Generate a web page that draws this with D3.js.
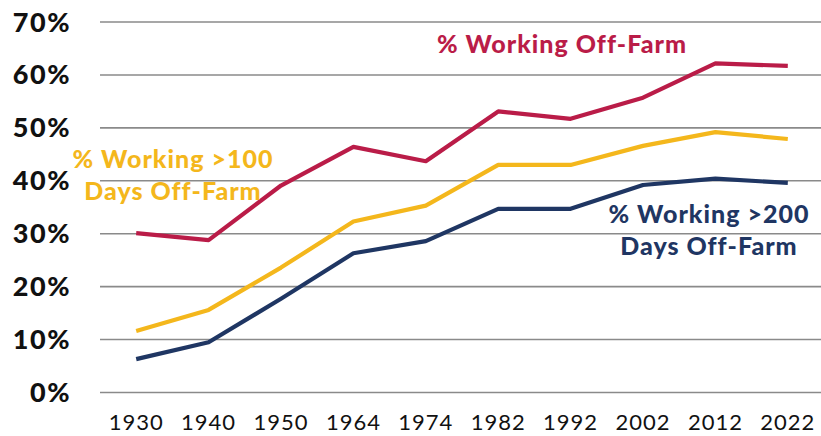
<!DOCTYPE html>
<html>
<head>
<meta charset="utf-8">
<script src="https://cdn.jsdelivr.net/npm/d3@7"></script>
<style>
  body { margin: 0; background: #fff; }
  text { font-family: Lato, "DejaVu Sans", sans-serif; }
</style>
</head>
<body>
<div id="chart"></div>
<script>
// chart data
const years = ["1930", "1940", "1950", "1964", "1974", "1982", "1992", "2002", "2012", "2022"];
const offFarm = [30.1, 28.8, 39.1, 46.4, 43.7, 53.1, 51.7, 55.7, 62.2, 61.7];
const over100 = [11.6, 15.6, 23.6, 32.3, 35.3, 43.0, 43.0, 46.6, 49.2, 47.9];
const over200 = [6.3, 9.5, 17.7, 26.3, 28.6, 34.7, 34.7, 39.2, 40.4, 39.6];
const yTicks = [0, 10, 20, 30, 40, 50, 60, 70];

const svgWidth = 821;
const svgHeight = 436;

const svg = d3.select("#chart")
  .append("svg")
  .attr("width", svgWidth)
  .attr("height", svgHeight);

const x = d3.scalePoint()
  .domain(years)
  .range([100, 824])
  .padding(0.5);

const y = d3.scaleLinear()
  .domain([0, 70])
  .range([392.5, 22]);

// gridlines
svg.append("g")
  .selectAll("line")
  .data(yTicks)
  .enter()
  .append("line")
  .attr("x1", 100)
  .attr("x2", svgWidth)
  .attr("y1", d => y(d))
  .attr("y2", d => y(d))
  .attr("stroke", "#8a8a8a")
  .attr("stroke-width", 1.6);

// y axis labels
svg.append("g")
  .selectAll("text")
  .data(yTicks)
  .enter()
  .append("text")
  .attr("x", 71)
  .attr("y", d => y(d) + 9.5)
  .attr("text-anchor", "end")
  .attr("font-size", "27px")
  .attr("font-weight", 900)
  .attr("letter-spacing", "1.5px")
  .attr("fill", "#111")
  .text(d => d + "%");

// x axis labels
svg.append("g")
  .selectAll("text")
  .data(years)
  .enter()
  .append("text")
  .attr("x", d => x(d))
  .attr("y", 430)
  .attr("text-anchor", "middle")
  .attr("font-size", "22px")
  .attr("letter-spacing", "1px")
  .attr("fill", "#111")
  .text(d => d);

const line = d3.line()
  .x((d, i) => x(years[i]))
  .y(d => y(d));

const series = [
  { values: offFarm, color: "#BA1C48" },
  { values: over100, color: "#F4B71C" },
  { values: over200, color: "#1F3663" }
];

svg.append("g")
  .selectAll("path")
  .data(series)
  .enter()
  .append("path")
  .attr("d", d => line(d.values))
  .attr("fill", "none")
  .attr("stroke", d => d.color)
  .attr("stroke-width", 4.2)
  .attr("stroke-linejoin", "round");

// series labels
const labels = [
  { lines: ["% Working Off-Farm"], x: 562, y: 53, color: "#BA1C48" },
  { lines: ["% Working >100", "Days Off-Farm"], x: 173, y: 168, color: "#F4B71C" },
  { lines: ["% Working >200", "Days Off-Farm"], x: 709, y: 223, color: "#1F3663" }
];

labels.forEach(l => {
  const t = svg.append("text")
    .attr("x", l.x)
    .attr("y", l.y)
    .attr("text-anchor", "middle")
    .attr("font-size", "25px")
    .attr("font-weight", 900)
    .attr("letter-spacing", "1px")
    .attr("fill", l.color);
  l.lines.forEach((s, i) => {
    t.append("tspan")
      .attr("x", l.x)
      .attr("dy", i === 0 ? 0 : 32)
      .text(s);
  });
});
</script>
</body>
</html>
